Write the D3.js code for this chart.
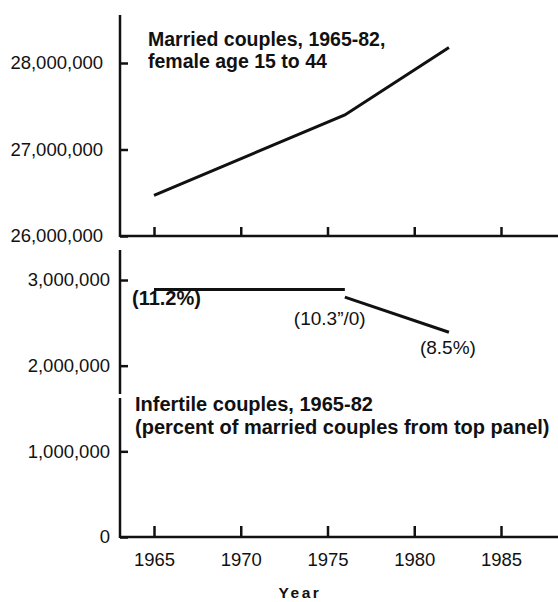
<!DOCTYPE html>
<html>
<head>
<meta charset="utf-8">
<script src="https://cdn.jsdelivr.net/npm/d3@7"></script>
<style>
  body { margin: 0; background: #fff; }
  text { font-family: "Liberation Sans", Arial, sans-serif; fill: #111; }
</style>
</head>
<body>
<script>
// data
const years = [1965, 1970, 1975, 1980, 1985];
const marriedYears = [1965, 1976, 1982];
const marriedValues = [26470000, 27400000, 28180000];
const infertileYears1 = [1965, 1976];
const infertileValues1 = [2890000, 2890000];
const infertileYears2 = [1976, 1982];
const infertileValues2 = [2800000, 2390000];
const topTicks = [26000000, 27000000, 28000000];
const bottomTicks = [0, 1000000, 2000000, 3000000];
const pctLabels = [
  { year: 1965, value: 2890000, text: '(11.2%)', bold: true, dx: -22, dy: 16 },
  { year: 1976, value: 2890000, text: '(10.3\u201d/0)', bold: false, dx: -51, dy: 36 },
  { year: 1982, value: 2390000, text: '(8.5%)', bold: false, dx: -29, dy: 22 }
];

const W = 558, H = 602;
const svg = d3.select('body').append('svg')
  .attr('width', W)
  .attr('height', H);

const x = d3.scaleLinear().domain([1965, 1985]).range([154, 501]);
const yTop = d3.scaleLinear().domain([26000000, 28000000]).range([236, 63]);
const yBot = d3.scaleLinear().domain([0, 3000000]).range([537, 280]);
const fmt = d3.format(',');
const left = 120;

// top panel axes
const gTopY = svg.append('g')
  .attr('transform', `translate(${left},0)`)
  .call(d3.axisLeft(yTop).tickValues(topTicks).tickSize(-8).tickPadding(17).tickFormat(fmt));
gTopY.select('.domain').remove();
svg.append('line').attr('x1', left).attr('x2', left).attr('y1', 15).attr('y2', 237)
  .attr('stroke', '#111').attr('stroke-width', 2.5);

const gTopX = svg.append('g')
  .attr('transform', `translate(0,${yTop(26000000)})`)
  .call(d3.axisBottom(x).tickValues(years).tickSize(-9).tickFormat(''));
gTopX.select('.domain').remove();
svg.append('line').attr('x1', left).attr('x2', W).attr('y1', yTop(26000000)).attr('y2', yTop(26000000))
  .attr('stroke', '#111').attr('stroke-width', 2.5);

// bottom panel axes
const gBotY = svg.append('g')
  .attr('transform', `translate(${left},0)`)
  .call(d3.axisLeft(yBot).tickValues(bottomTicks).tickSize(-8).tickPadding(10).tickFormat(fmt));
gBotY.select('.domain').remove();
svg.append('line').attr('x1', left).attr('x2', left).attr('y1', 250).attr('y2', 394)
  .attr('stroke', '#111').attr('stroke-width', 2.5);
svg.append('line').attr('x1', left).attr('x2', left).attr('y1', 398).attr('y2', 538)
  .attr('stroke', '#111').attr('stroke-width', 2.5);

const gBotX = svg.append('g')
  .attr('transform', `translate(0,${yBot(0)})`)
  .call(d3.axisBottom(x).tickValues(years).tickSize(-11).tickPadding(11).tickFormat(d3.format('d')));
gBotX.select('.domain').remove();
svg.append('line').attr('x1', left).attr('x2', W).attr('y1', yBot(0)).attr('y2', yBot(0))
  .attr('stroke', '#111').attr('stroke-width', 2.5);

svg.selectAll('.tick line').attr('stroke', '#111').attr('stroke-width', 2.5);
svg.selectAll('.tick text').attr('font-size', 18.5).attr('fill', '#111');
gBotX.selectAll('.tick text').attr('dy', '0.95em');

// lines
const line = d3.line();
const drawLine = (xs, vs, ys) => svg.append('path')
  .attr('d', line(xs.map((d, i) => [x(d), ys(vs[i])])))
  .attr('fill', 'none').attr('stroke', '#111').attr('stroke-width', 3);
drawLine(marriedYears, marriedValues, yTop);
drawLine(infertileYears1, infertileValues1, yBot);
drawLine(infertileYears2, infertileValues2, yBot);

// percent labels
svg.selectAll('.pct')
  .data(pctLabels)
  .enter().append('text')
  .attr('class', 'pct')
  .attr('x', d => x(d.year) + d.dx)
  .attr('y', d => yBot(d.value) + d.dy)
  .attr('font-size', d => d.bold ? 20 : 19)
  .attr('font-weight', d => d.bold ? 'bold' : 'normal')
  .text(d => d.text);

// titles
const title = (lines, tx, ty, gap, size) => lines.forEach((t, i) => svg.append('text')
  .attr('x', tx).attr('y', ty + i * gap)
  .attr('font-size', size).attr('font-weight', 'bold')
  .text(t));
title(['Married couples, 1965-82,', 'female age 15 to 44'], 148, 46, 22, 19.5);
title(['Infertile couples, 1965-82', '(percent of married couples from top panel)'], 135, 411, 23, 20);

svg.append('text')
  .attr('x', 300).attr('y', 598)
  .attr('text-anchor', 'middle')
  .attr('font-size', 15.5).attr('font-weight', 'bold')
  .attr('letter-spacing', 2.5)
  .text('Year');
</script>
</body>
</html>
